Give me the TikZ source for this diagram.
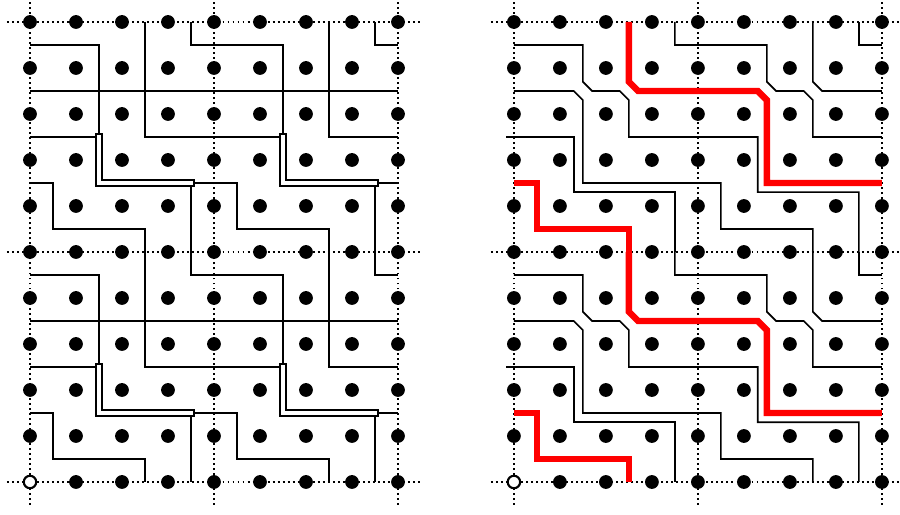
\documentclass[tikz,border=0pt]{standalone}
\usepackage{xcolor}
\usepackage{tikz}
\tikzset{wall/.style={line width=1pt,line join=miter},
  seam/.style={line width=0.8pt,double=white,double distance=2.8pt,line cap=rect},
  redwall/.style={red,line width=4pt},
  frame/.style={line width=1.2pt,dash pattern=on 1.2pt off 1.9pt}}

\begin{document}
\begin{tikzpicture}
\useasboundingbox (-0.652,-0.717) rectangle (18.913,10.478);

% dotted frame lines of both panels
\foreach \s in {0,10.52} {
  \foreach \x in {0,4,8}
    \draw[frame] (\s+\x,-0.5) -- (\s+\x,10.5);
  \foreach \y in {0,5,10}
    \draw[frame] (\s-0.5,\y) -- (\s+8.5,\y);
}

% left panel, one 4x5 tile repeated
\foreach \a in {0,4}
  \foreach \b in {0,5} {
    \begin{scope}[shift={(\a,\b)}]
      \draw[wall] (0,4.5) -- (1.5,4.5) -- (1.5,2.5);
      \draw[wall] (0,3.5) -- (4,3.5);
      \draw[wall] (0,2.5) -- (1.5,2.5);
      \draw[wall] (0,1.5) -- (0.5,1.5) -- (0.5,0.5) -- (2.5,0.5) -- (2.5,0);
      \draw[wall] (2.5,5) -- (2.5,2.5) -- (4,2.5);
      \draw[wall] (3.5,5) -- (3.5,4.5) -- (4,4.5);
      \draw[wall] (3.5,1.5) -- (4,1.5);
      \draw[wall] (3.5,1.5) -- (3.5,0);
      % doubled piece
      \draw[seam] (1.5,2.5) -- (1.5,1.5) -- (3.5,1.5);
    \end{scope}
  }

% right panel, one 8x5 band repeated
\foreach \b in {0,5} {
  \begin{scope}[shift={(10.52,\b)}]
    \draw[wall] (0,4.5) -- (1.5,4.5) -- (1.5,3.7) -- (1.7,3.5) -- (2.3,3.5) -- (2.5,3.3) -- (2.5,2.5) -- (5.3,2.5) -- (5.3,1.3) -- (7.5,1.3) -- (7.5,0);
    \draw[wall] (7.5,5) -- (7.5,4.5) -- (8,4.5);
    \draw[wall] (0,3.5) -- (1.3,3.5) -- (1.5,3.3) -- (1.5,1.5) -- (4.5,1.5) -- (4.5,0.5) -- (6.5,0.5) -- (6.5,0);
    \draw[wall] (6.5,5) -- (6.5,3.7) -- (6.7,3.5) -- (8,3.5);
    \draw[wall] (3.5,5) -- (3.5,4.5) -- (5.5,4.5) -- (5.5,3.7) -- (5.7,3.5) -- (6.3,3.5) -- (6.5,3.3) -- (6.5,2.5) -- (8,2.5);
    \draw[wall] (-0.17,2.5) -- (1.3,2.5) -- (1.3,1.3) -- (3.5,1.3) -- (3.5,0);
    % the red curve
    \draw[redwall] (0,1.5) -- (0.5,1.5) -- (0.5,0.5) -- (2.5,0.5) -- (2.5,0);
    \draw[redwall] (2.5,5) -- (2.5,3.7) -- (2.7,3.5) -- (5.3,3.5) -- (5.5,3.3) -- (5.5,1.5) -- (8,1.5);
  \end{scope}
}

% draw a black dot in each lattice point
\foreach \s in {0,10.52} {
  \foreach \x in {0,...,8}
    \foreach \y in {0,...,10}
      \fill (\s+\x,\y) circle[radius=0.15];
  \filldraw[fill=white,line width=1.3pt] (\s,0) circle[radius=0.135];
}

\end{tikzpicture}
\end{document}
